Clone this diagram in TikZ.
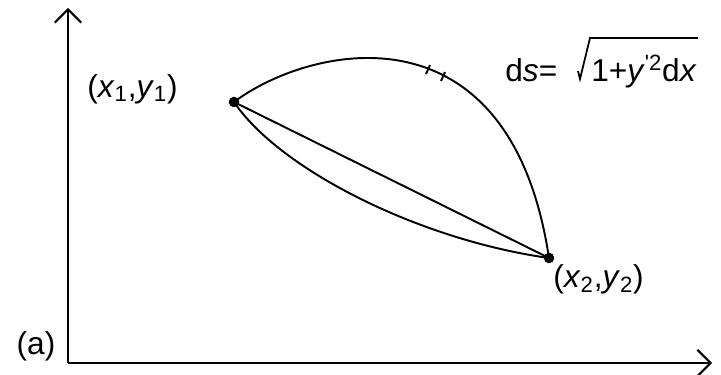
\documentclass[tikz,border=0pt]{standalone}
\usepackage{fontspec}
\setmainfont{Liberation Sans}
\usetikzlibrary{arrows.meta}

\tikzset{
  axis/.style={line width=1.2pt, -{Straight Barb[length=7.5pt,width=15pt,line width=1.2pt]}},
  curve/.style={line width=1.1pt},
  lbl/.style={font=\fontsize{18}{21}\selectfont, inner sep=0pt},
  pt/.style={circle, fill=black, inner sep=0pt, minimum size=6pt}
}

\begin{document}
\begin{tikzpicture}[x=0.02cm, y=-0.02cm]
    \useasboundingbox (0,0) rectangle (721,375);

    % 坐标轴
    \coordinate (O) at (68,363);
    \coordinate (ytop) at (68,8);
    \coordinate (xend) at (712,363);
    \draw[axis] (O) -- (ytop);
    \draw[axis] (O) -- (xend);
    \node[lbl] (alab) at (36,346) {(a)};

    % 端点
    \node[pt] (p1) at (234,102) {};
    \node[pt] (p2) at (549,258) {};
    \node[lbl, anchor=west] (p1lab) at (87,89) {(\textit{x}\textsubscript{1},\textit{y}\textsubscript{1})};
    \node[lbl, anchor=west] (p2lab) at (553,279) {(\textit{x}\textsubscript{2},\textit{y}\textsubscript{2})};

    % 曲线和弦
    \draw[curve] (p1.center) .. controls (310,45) and (510,0) .. (p2.center);
    \draw[curve] (p1.center) -- (p2.center);
    \draw[curve] (p1.center) .. controls (280,170) and (420,240) .. (p2.center);

    % 弧元
    \draw[curve] (426,74) -- (430,65);
    \draw[curve] (441,81) -- (445,72);

    % ds 公式
    \node[lbl, anchor=base west] (dslab) at (505,82) {d\textit{s}=};
    \node[lbl, anchor=base west] (rootlab) at (591,82) {1+\textit{y}\textsuperscript{\textquotesingle 2}d\textit{x}};
    \draw[line width=1pt] (578,71) -- (580,79) -- (590,38) -- (698,38);
\end{tikzpicture}
\end{document}
